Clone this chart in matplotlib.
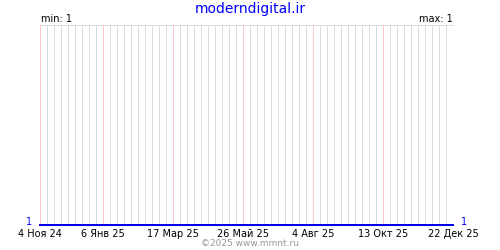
import numpy as np
import pandas as pd
import matplotlib.pyplot as plt
import matplotlib.transforms as mtransforms
import datetime as dt

## data
dates = [dt.date(2024, 11, 4), dt.date(2025, 12, 22)]
values = [1, 1]
tick_dates = [dt.date(2024, 11, 4), dt.date(2025, 1, 6), dt.date(2025, 3, 17),
              dt.date(2025, 5, 26), dt.date(2025, 8, 4), dt.date(2025, 10, 13),
              dt.date(2025, 12, 22)]
tick_labels = ["4 Ноя 24", "6 Янв 25", "17 Мар 25", "26 Май 25",
               "4 Авг 25", "13 Окт 25", "22 Дек 25"]
title = "moderndigital.ir"
v_min = 1
v_max = 1

grey = "#dcdcdc"
pink = "#ffc8c8"
px = 72 / 100  # one pixel in points

fig = plt.figure(figsize=(5, 2.5), dpi=100)
ax = fig.add_axes([0.08, 0.1, 0.826, 0.8])

ax.plot(dates, values, color="#0000ee", lw=2 * px, clip_on=False, zorder=5)
ax.set_xlim(dates[0], dates[-1])
ax.set_ylim(1, 2)

# weekly grid, labelled weeks (except the last) in pink
pink_weeks = set(pd.to_datetime(tick_dates[:-1]))
weeks = pd.date_range(dates[0], dates[-1], freq="7D")
for w in weeks:
    c = pink if w in pink_weeks else grey
    ax.axvline(w, color=c, lw=px, antialiased=False, zorder=2 if c == pink else 1)
ax.axhline(2, color=grey, lw=px, antialiased=False, zorder=1, clip_on=False)

ax.set_xticks(tick_dates)
ax.set_xticklabels(tick_labels)
ax.set_yticks([])
ax.tick_params(axis="x", length=0, pad=3, labelsize=7)
for s in ax.spines.values():
    s.set_visible(False)

trans = mtransforms.blended_transform_factory(ax.transAxes, ax.transData)
ax.annotate(str(values[0]), xy=(0, values[0]), xycoords=trans, xytext=(-6, 2),
            textcoords="offset points", color="#0000ee", fontsize=7,
            ha="right", va="center")
ax.annotate(str(values[-1]), xy=(1, values[-1]), xycoords=trans, xytext=(6, 2),
            textcoords="offset points", color="#0000ee", fontsize=7,
            ha="left", va="center")

fig.text(0.5, 0.966, title, color="#0000ff", fontsize=10, ha="center", va="center")
fig.text(0.082, 0.922, "min: %d" % v_min, fontsize=7, ha="left", va="center")
fig.text(0.906, 0.922, "max: %d" % v_max, fontsize=7, ha="right", va="center")
fig.text(0.5, 0.026, "©2025 www.mmnt.ru", color="#999999", fontsize=6.5,
         ha="center", va="center")

fig.savefig("out.png", dpi=100)
